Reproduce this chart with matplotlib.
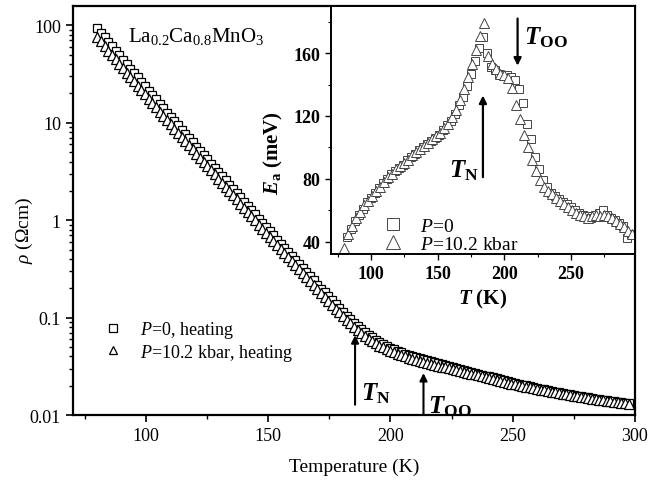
import matplotlib
matplotlib.use("Agg")
from matplotlib import pyplot as plt
from matplotlib.ticker import FixedLocator, NullFormatter
import numpy as np

plt.rcParams["font.family"] = ["Liberation Serif", "DejaVu Serif"]
plt.rcParams["mathtext.fontset"] = "custom"
plt.rcParams["mathtext.rm"] = "Liberation Serif"
plt.rcParams["mathtext.it"] = "Liberation Serif:italic"
plt.rcParams["mathtext.bf"] = "Liberation Serif:bold"
plt.rcParams["mathtext.bfit"] = "Liberation Serif:bold:italic"

# main panel: log10(rho / Ohm cm), one point every 1.5 K from 80 K
log_rho_p0 = [
    1.970, 1.924, 1.877, 1.830, 1.784, 1.738, 1.691, 1.645, 1.600, 1.555,
    1.510, 1.465, 1.420, 1.375, 1.330, 1.285, 1.240, 1.195, 1.150, 1.105,
    1.060, 1.017, 0.973, 0.930, 0.886, 0.843, 0.799, 0.756, 0.712, 0.669,
    0.625, 0.582, 0.538, 0.495, 0.451, 0.408, 0.364, 0.321, 0.277, 0.234,
    0.190, 0.147, 0.103, 0.060, 0.016, -0.028, -0.071, -0.114, -0.156, -0.198,
    -0.240, -0.282, -0.324, -0.366, -0.408, -0.450, -0.492, -0.534, -0.576, -0.618,
    -0.660, -0.701, -0.741, -0.782, -0.822, -0.863, -0.903, -0.943, -0.980, -1.018,
    -1.055, -1.087, -1.118, -1.150, -1.177, -1.203, -1.228, -1.252, -1.271, -1.291,
    -1.310, -1.325, -1.340, -1.355, -1.368, -1.380, -1.392, -1.404, -1.414, -1.425,
    -1.435, -1.446, -1.456, -1.467, -1.477, -1.488, -1.498, -1.508, -1.517, -1.526,
    -1.535, -1.545, -1.555, -1.564, -1.574, -1.584, -1.594, -1.603, -1.613, -1.623,
    -1.633, -1.642, -1.652, -1.662, -1.671, -1.679, -1.687, -1.695, -1.704, -1.712,
    -1.720, -1.728, -1.735, -1.743, -1.750, -1.758, -1.765, -1.772, -1.779, -1.786,
    -1.793, -1.799, -1.806, -1.813, -1.819, -1.825, -1.830, -1.836, -1.842, -1.847,
    -1.853, -1.858, -1.864, -1.869, -1.875, -1.880,
]
log_rho_p10 = [
    1.880, 1.835, 1.788, 1.742, 1.697, 1.651, 1.605, 1.559, 1.515, 1.471,
    1.427, 1.382, 1.338, 1.294, 1.249, 1.205, 1.161, 1.116, 1.072, 1.028,
    0.983, 0.941, 0.898, 0.855, 0.812, 0.770, 0.727, 0.684, 0.641, 0.599,
    0.555, 0.513, 0.470, 0.427, 0.384, 0.342, 0.299, 0.256, 0.213, 0.171,
    0.127, 0.085, 0.042, 0.000, -0.044, -0.087, -0.129, -0.171, -0.212, -0.254,
    -0.295, -0.336, -0.377, -0.419, -0.460, -0.501, -0.542, -0.584, -0.625, -0.666,
    -0.707, -0.748, -0.787, -0.827, -0.866, -0.907, -0.946, -0.985, -1.021, -1.059,
    -1.095, -1.126, -1.156, -1.188, -1.214, -1.239, -1.263, -1.287, -1.305, -1.324,
    -1.342, -1.356, -1.371, -1.385, -1.398, -1.409, -1.420, -1.432, -1.441, -1.452,
    -1.461, -1.471, -1.481, -1.491, -1.501, -1.511, -1.520, -1.530, -1.538, -1.547,
    -1.555, -1.565, -1.574, -1.582, -1.592, -1.601, -1.611, -1.619, -1.629, -1.638,
    -1.648, -1.657, -1.666, -1.676, -1.685, -1.692, -1.700, -1.707, -1.716, -1.723,
    -1.731, -1.739, -1.745, -1.753, -1.759, -1.767, -1.773, -1.780, -1.787, -1.793,
    -1.800, -1.805, -1.812, -1.819, -1.824, -1.830, -1.834, -1.840, -1.846, -1.850,
    -1.856, -1.861, -1.866, -1.871, -1.877, -1.881,
]
temp_main = 80 + 1.5 * np.arange(len(log_rho_p0))

# inset: activation energy (meV)
temp_ea_p0 = list(range(82, 296, 3))
ea_p0 = [
    43, 48, 53, 57, 61, 65, 68, 71, 74, 77,
    80, 83, 85, 87, 89, 92, 94, 96, 98, 100,
    102, 104, 106, 108, 111, 114, 117, 121, 127, 132,
    139, 147, 155, 163, 170, 160, 151, 149, 147, 146,
    146, 145, 143, 137, 128, 115, 105, 94, 86, 79,
    75, 71, 69, 67, 65, 64, 62, 60, 58, 57,
    56, 55, 57, 58, 60, 57, 55, 54, 52, 50,
    42, 45,
]
temp_ea_p10 = list(range(80, 297, 3))
ea_p10 = [
    36, 45, 50, 55, 59, 63, 66, 69, 72, 75,
    78, 81, 83, 86, 88, 90, 92, 95, 97, 99,
    101, 103, 105, 107, 109, 112, 115, 119, 124, 130,
    137, 145, 153, 162, 171, 179, 158, 153, 150, 147,
    146, 144, 138, 127, 118, 108, 100, 92, 85, 79,
    75, 72, 70, 68, 66, 64, 62, 60, 58, 57,
    56, 55, 56, 57, 56, 57, 56, 55, 53, 51,
    49, 47, 45,
]

fig = plt.figure(figsize=(6.62, 4.85), dpi=100)
ax = fig.add_axes([0.110, 0.142, 0.849, 0.843])

rho_p0 = 10 ** np.array(log_rho_p0)
rho_p10 = 10 ** np.array(log_rho_p10)
ax.plot(temp_main, rho_p0, ls="none", marker="s", ms=6.3, mfc="white",
        mec="black", mew=0.9, label=r"$P$=0, heating")
ax.plot(temp_main, rho_p10, ls="none", marker="^", ms=6.8, mfc="white",
        mec="black", mew=0.9, label=r"$P$=10.2 kbar, heating")

ax.set_yscale("log")
ax.set_xlim(70, 300)
ax.set_ylim(0.01, 157)
ax.set_xticks([100, 150, 200, 250, 300])
ax.xaxis.set_minor_locator(FixedLocator([75, 125, 175, 225, 275]))
ax.set_yticks([0.01, 0.1, 1, 10, 100])
ax.set_yticklabels(["0.01", "0.1", "1", "10", "100"])
ax.yaxis.set_minor_formatter(NullFormatter())
ax.tick_params(which="major", direction="out", length=5, width=1.2, labelsize=13)
ax.tick_params(which="minor", direction="out", length=3, width=1)
for s in ax.spines.values():
    s.set_linewidth(1.6)
ax.set_xlabel("Temperature (K)", fontsize=14, labelpad=10)
ax.set_ylabel(r"$\rho$ ($\Omega$cm)", fontsize=14)
ax.yaxis.set_label_coords(-0.068, 0.455)

ax.text(0.098, 0.955, r"La$_{0.2}$Ca$_{0.8}$MnO$_3$", transform=ax.transAxes,
        fontsize=15, va="top")

ax.legend(loc="lower left", bbox_to_anchor=(0.052, 0.128), frameon=False,
          fontsize=13, markerscale=0.85, handlelength=1.2, handletextpad=0.9,
          labelspacing=0.1, borderpad=0, borderaxespad=0)

arrow = dict(arrowstyle="-|>", lw=1.5, color="black", mutation_scale=11,
             shrinkA=0, shrinkB=0)
ax.annotate("", xy=(185.5, 0.066), xytext=(185.5, 0.0128), arrowprops=arrow)
ax.text(188, 0.0145, r"$\mathbfit{T}_{\mathbf{N}}$", fontsize=18)
ax.annotate("", xy=(213.5, 0.027), xytext=(213.5, 0.0103), arrowprops=arrow)
ax.text(215.5, 0.0107, r"$\mathbfit{T}_{\mathbf{OO}}$", fontsize=18)

# inset
ins = fig.add_axes([0.500, 0.474, 0.459, 0.5116])
ins.plot(temp_ea_p0, ea_p0, ls="none", marker="s", ms=6, mfc="white",
         mec="#444444", mew=0.7, label=r"$P$=0")
ins.plot(temp_ea_p10, ea_p10, ls="none", marker="^", ms=6.5, mfc="white",
         mec="#444444", mew=0.7, label=r"$P$=10.2 kbar")
ins.set_xlim(70, 298)
ins.set_ylim(32, 190)
ins.set_xticks([100, 150, 200, 250])
ins.xaxis.set_minor_locator(FixedLocator([75, 125, 175, 225, 275]))
ins.set_yticks([40, 80, 120, 160])
ins.yaxis.set_minor_locator(FixedLocator([60, 100, 140, 180]))
ins.tick_params(which="major", direction="out", length=4, width=1, labelsize=13)
ins.tick_params(which="minor", direction="out", length=2.5, width=0.8)
for lab in ins.get_xticklabels() + ins.get_yticklabels():
    lab.set_fontweight("bold")
for s in ins.spines.values():
    s.set_linewidth(1.4)
ins.set_xlabel(r"$\mathbfit{T}$ (K)", fontsize=15, fontweight="bold", labelpad=4)
ins.set_ylabel(r"$\mathbfit{E}_{\mathbf{a}}$ (meV)", fontsize=15,
               fontweight="bold")
ins.yaxis.set_label_coords(-0.15, 0.41)
ins.legend(loc="lower left", bbox_to_anchor=(0.161, 0.006), frameon=False,
           fontsize=14, markerscale=1.5, handlelength=1.3, handletextpad=0.75,
           labelspacing=0.0, borderpad=0, borderaxespad=0)

arrow2 = dict(arrowstyle="-|>", lw=1.6, color="black", mutation_scale=11,
              shrinkA=0, shrinkB=0)
ins.annotate("", xy=(184, 133), xytext=(184, 81), arrowprops=arrow2)
ins.text(181, 81.5, r"$\mathbfit{T}_{\mathbf{N}}$", fontsize=18, ha="right")
ins.annotate("", xy=(210, 152), xytext=(210, 182), arrowprops=arrow2)
ins.text(215, 166, r"$\mathbfit{T}_{\mathbf{OO}}$", fontsize=18)

plt.savefig("out.png", dpi=100)
